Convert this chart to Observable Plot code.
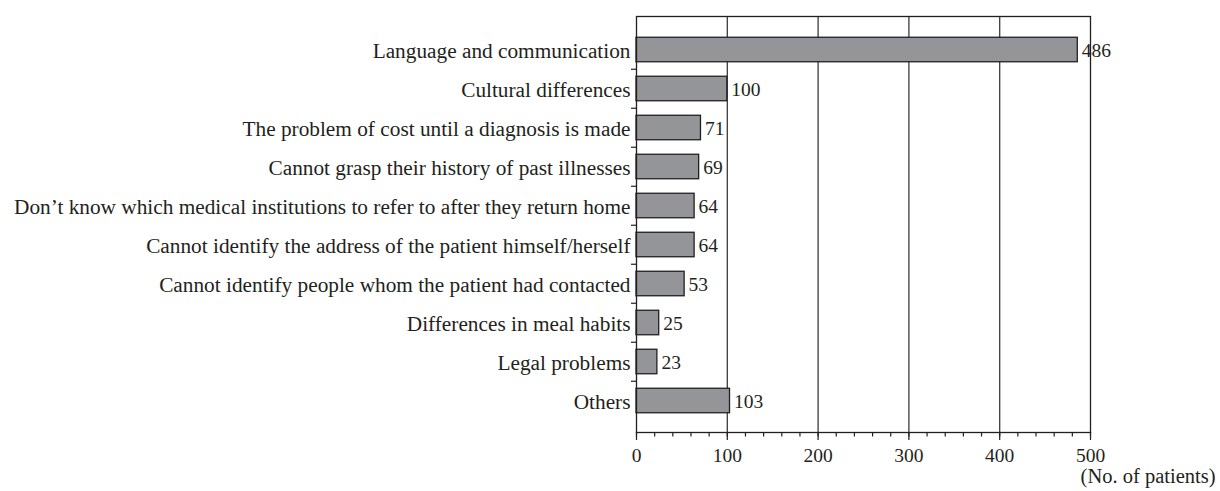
<!DOCTYPE html>
<html>
<head>
<meta charset="utf-8">
<script src="https://cdn.jsdelivr.net/npm/d3@7"></script>
<script src="https://cdn.jsdelivr.net/npm/@observablehq/plot@0.6"></script>
<style>
  html, body { margin: 0; padding: 0; background: #fff; }
  #chart svg { display: block; }
  #chart svg, #chart svg text { font-family: "Liberation Serif", "Times New Roman", serif !important; }
</style>
</head>
<body>
<div id="chart"></div>
<script>
const categories = [
  "Language and communication",
  "Cultural differences",
  "The problem of cost until a diagnosis is made",
  "Cannot grasp their history of past illnesses",
  "Don\u2019t know which medical institutions to refer to after they return home",
  "Cannot identify the address of the patient himself/herself",
  "Cannot identify people whom the patient had contacted",
  "Differences in meal habits",
  "Legal problems",
  "Others"
];
const values = [486, 100, 71, 69, 64, 64, 53, 25, 23, 103];
const majorTicks = [0, 100, 200, 300, 400, 500];
const minorTicks = [0, 20, 40, 60, 80, 100, 120, 140, 160, 180, 200, 220, 240, 260, 280, 300, 320, 340, 360, 380, 400, 420, 440, 460, 480, 500];
const gridTicks = [100, 200, 300, 400];
const unitLabel = "(No. of patients)";

const data = categories.map((c, i) => ({category: c, value: values[i]}));

const W = 1220, H = 491;
const mT = 16, mB = 59, mL = 636, mR = 130;
const insT = 11, insB = 10;
const step = (H - mT - mB - insT - insB) / categories.length;
const ink = "#231f20";
const font = "Liberation Serif";

const chart = Plot.plot({
  width: W,
  height: H,
  marginTop: mT,
  marginBottom: mB,
  marginLeft: mL,
  marginRight: mR,
  style: {fontFamily: font, fontSize: "20px", color: ink, background: "#fff"},
  x: {domain: [0, 500]},
  y: {domain: categories, padding: 0, insetTop: insT, insetBottom: insB},
  marks: [
    Plot.gridX(gridTicks, {stroke: "#3a3a3a", strokeOpacity: 1, strokeWidth: 1.3}),
    Plot.barX(data, {x: "value", y: "category", fill: "#939598", stroke: ink, strokeWidth: 1.3, insetTop: (step - 25) / 2, insetBottom: (step - 25) / 2}),
    Plot.text(data, {x: "value", y: "category", text: d => String(d.value), textAnchor: "start", dx: 4, dy: 1, fontSize: 19.5, fontFamily: font, fill: ink}),
    Plot.frame({stroke: ink, strokeWidth: 1.3}),
    Plot.axisX(minorTicks, {tickSize: 4.5, tickFormat: null, text: null, label: null, stroke: ink, strokeWidth: 1.2}),
    Plot.axisX(majorTicks, {tickSize: 8, tickPadding: 8, label: null, stroke: ink, strokeWidth: 1.2, fontSize: 19.5, fontFamily: font, fill: ink}),
    Plot.axisY({tickSize: 0, tickPadding: 6, label: null, fontSize: 21.3, fontFamily: font, fill: ink, dy: 1}),
    Plot.axisY(categories.slice(1), {tickSize: 5, text: null, label: null, stroke: ink, strokeWidth: 1.2, dy: -step / 2}),
    Plot.text([unitLabel], {frameAnchor: "bottom-right", text: d => d, dx: 125, dy: 50, fontSize: 20.5, fontFamily: font, textAnchor: "end", fill: ink})
  ]
});
document.getElementById("chart").appendChild(chart);
</script>
</body>
</html>
